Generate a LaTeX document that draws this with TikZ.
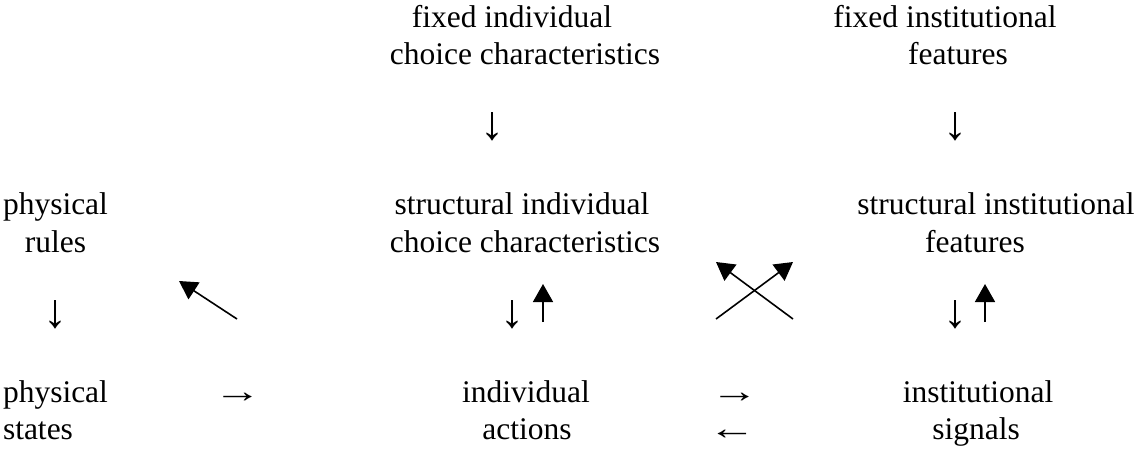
\documentclass[tikz,border=0pt]{standalone}
\usepackage{fontspec}
\setmainfont{Liberation Serif}
\usetikzlibrary{arrows.meta}
\begin{document}
\begin{tikzpicture}[x=1pt,y=-1pt,
  txt/.style={inner sep=0pt,outer sep=0pt,anchor=base,font=\fontsize{31.5}{37.5}\selectfont},
  txtl/.style={txt,anchor=base west},
  glyph/.style={txt,font=\fontsize{48}{37.5}\selectfont},
  hglyph/.style={txt,font=\fontsize{33}{37.5}\selectfont},
  bigarrow/.style={line width=1.6pt,-{Triangle[length=18pt,width=20pt]}}]
\useasboundingbox (0,0) rectangle (1139,448);
% left column
\node[txtl] (phr) at (3,214.5) {physical};
\node[txt] (rul) at (55.5,252) {rules};
\node[glyph] (dl) at (55.5,327) {↓};
\node[txtl] (phs) at (3,402) {physical};
\node[txtl] (sta) at (3,439.5) {states};
\node[hglyph] (ra) at (237.5,402) {\scalebox{1.45}[1]{→}};
% middle column
\node[txt] (fi1) at (512,27) {fixed individual};
\node[txt] (fi2) at (525,64.5) {choice characteristics};
\node[glyph] (dm1) at (492,139.5) {↓};
\node[txt] (si1) at (522,214.5) {structural individual};
\node[txt] (si2) at (525,252) {choice characteristics};
\node[glyph] (dm2) at (512,327) {↓};
\node[txt] (ia1) at (526,402) {individual};
\node[txt] (ia2) at (527,439.5) {actions};
\node[hglyph] (rm) at (734.5,402) {\scalebox{1.45}[1]{→}};
\node[hglyph] (lm) at (732,439.5) {\scalebox{1.45}[1]{←}};
% right column
\node[txt] (ff1) at (945,27) {fixed institutional};
\node[txt] (ff2) at (958,64.5) {features};
\node[glyph] (dr1) at (955,139.5) {↓};
\node[txt] (sf1) at (996,214.5) {structural institutional};
\node[txt] (sf2) at (975,252) {features};
\node[glyph] (dr2) at (955,327) {↓};
\node[txt] (is1) at (978,402) {institutional};
\node[txt] (is2) at (976,439.5) {signals};
% drawn arrows
\coordinate (la0) at (237,319); \coordinate (la1) at (179,281);
\coordinate (ma0) at (543,322); \coordinate (ma1) at (543,284);
\coordinate (ra0) at (985,322); \coordinate (ra1) at (985,284);
\coordinate (xa0) at (716,319); \coordinate (xa1) at (793,262);
\coordinate (xb0) at (793,319); \coordinate (xb1) at (716,262);
\draw[bigarrow] (la0) -- (la1);
\draw[bigarrow] (ma0) -- (ma1);
\draw[bigarrow] (ra0) -- (ra1);
\draw[bigarrow] (xa0) -- (xa1);
\draw[bigarrow] (xb0) -- (xb1);
\end{tikzpicture}
\end{document}
